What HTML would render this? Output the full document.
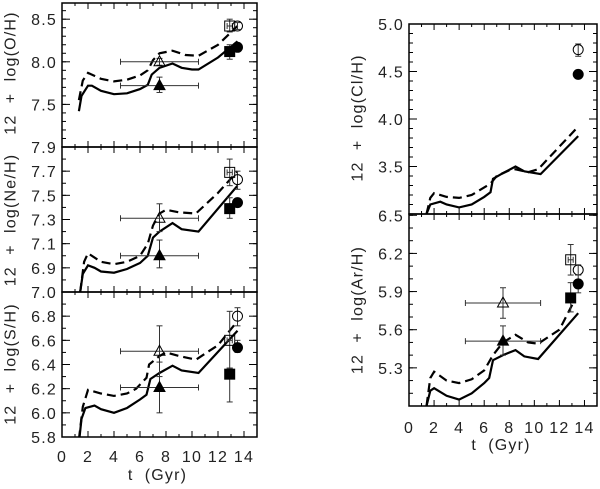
<!DOCTYPE html>
<html><head><meta charset="utf-8"><style>
html,body{margin:0;padding:0;background:#fff;}
svg{display:block;font-family:"Liberation Sans",sans-serif;}
</style></head><body>
<svg id="c" width="600" height="489"></svg>
<script>
// ---- data ----
const oSolidT=[1.3,1.5,2,2.3,3,4,5,6,6.6,6.9,7.5,8.5,9.2,10,10.5,12,13.5];
const oSolidV=[7.42,7.6,7.72,7.72,7.66,7.62,7.63,7.68,7.73,7.85,7.93,7.98,7.93,7.91,7.91,8.05,8.24];
const oDashT=[1.3,1.6,2,3,4,5,6,6.6,7,7.5,8.5,9.5,10.5,12,13.5];
const oDashV=[7.55,7.78,7.87,7.8,7.77,7.79,7.84,7.9,8.02,8.1,8.13,8.08,8.07,8.2,8.42];
const neSolidT=[1.4,1.6,2,2.5,3,4,5,6,6.6,7,7.5,8.5,9.2,10.5,13.5];
const neSolidV=[6.7,6.85,6.92,6.9,6.87,6.86,6.89,6.94,7.0,7.15,7.2,7.27,7.22,7.2,7.58];
const neDashT=[1.4,1.7,2,3,4,5,6,6.6,7,7.5,8,9,10.3,12,13.5];
const neDashV=[6.7,6.95,7.02,6.95,6.93,6.95,7.0,7.1,7.25,7.35,7.38,7.36,7.35,7.52,7.7];
const sSolidT=[1.3,1.5,1.8,2.5,3,4,5,6,6.5,6.8,7.5,8.5,9.2,10.5,13.5];
const sSolidV=[5.75,5.95,6.04,6.06,6.03,6.0,6.04,6.11,6.15,6.28,6.33,6.39,6.35,6.33,6.68];
const sDashT=[1.3,1.6,2,3,4,5,5.7,6.5,6.7,7.5,8,9,10.3,12,13.5];
const sDashV=[5.78,6.05,6.19,6.16,6.14,6.16,6.2,6.29,6.4,6.47,6.5,6.47,6.44,6.56,6.76];
const clSolidT=[1.4,1.7,2.5,3,4,5,6,6.5,6.7,7.5,8.5,9.2,10.5,13.5];
const clSolidV=[3.0,3.1,3.13,3.1,3.07,3.1,3.18,3.23,3.37,3.43,3.5,3.45,3.42,3.82];
const clDashT=[1.4,1.7,2,3,4,5,6,6.5,7,8,8.5,9.5,10.3,13.5];
const clDashV=[3.0,3.17,3.22,3.18,3.17,3.2,3.28,3.32,3.4,3.46,3.47,3.44,3.47,3.92];
const arSolidT=[1.4,1.7,2,3,4,5,6,6.4,6.7,7.5,8.5,9.2,10.3,13.5];
const arSolidV=[5.0,5.12,5.14,5.08,5.05,5.1,5.18,5.22,5.36,5.4,5.44,5.39,5.37,5.73];
const arDashT=[1.4,1.7,2,3,4,5,6,6.7,7.5,8.5,9.5,10.3,12,13.2];
const arDashV=[5.0,5.22,5.27,5.2,5.18,5.21,5.28,5.4,5.5,5.56,5.5,5.49,5.6,5.83];
// points: [t, value, tLo, tHi, vLo, vHi]
const oPts=[[7.5,8.0,4.5,10.5,7.96,8.04],[7.5,7.72,4.5,10.5,7.64,7.82],[12.9,8.42,12.7,13.1,8.35,8.5],[12.9,8.12,12.7,13.1,8.03,8.2],[13.5,8.42,13.5,13.5,8.38,8.46],[13.5,8.17,13.5,13.5,8.14,8.2]];
const nePts=[[7.5,7.31,4.5,10.5,7.2,7.43],[7.5,7.0,4.5,10.5,6.9,7.13],[12.9,7.69,12.7,13.1,7.58,7.8],[12.9,7.39,12.7,13.1,7.31,7.48],[13.5,7.63,13.5,13.5,7.55,7.7],[13.5,7.44,13.5,13.5,7.41,7.47]];
const sPts=[[7.5,6.51,4.5,10.5,6.3,6.72],[7.5,6.21,4.5,10.5,6.0,6.42],[12.9,6.6,12.7,13.1,6.37,6.84],[12.9,6.32,12.7,13.1,6.09,6.37],[13.5,6.8,13.5,13.5,6.72,6.87],[13.5,6.54,13.5,13.5,6.5,6.6]];
const clPts=[null,null,null,null,[13.5,4.73,13.5,13.5,4.66,4.79],[13.5,4.47,13.5,13.5,4.44,4.51]];
const arPts=[[7.5,5.81,4.5,10.5,5.69,5.93],[7.5,5.51,4.5,10.5,5.4,5.63],[12.9,6.15,12.7,13.1,6.03,6.27],[12.9,5.85,12.7,13.1,5.74,5.97],[13.5,6.07,13.5,13.5,6.03,6.11],[13.5,5.96,13.5,13.5,5.89,6.03]];
const xTickLabels=[0,2,4,6,8,10,12,14];
const oTicks=["7.5","8.0","8.5"], neTicks=["6.9","7.1","7.3","7.5","7.7","7.9"], sTicks=["5.8","6.0","6.2","6.4","6.6","6.8","7.0"];
const clTicks=["3.5","4.0","4.5","5.0"], arTicks=["5.3","5.6","5.9","6.2","6.5"];

const svg=document.getElementById('c');
const NS='http://www.w3.org/2000/svg';
function el(tag,attrs,parent){const e=document.createElementNS(NS,tag);for(const k in attrs)e.setAttribute(k,attrs[k]);(parent||svg).appendChild(e);return e;}

const FS=16, LS=1.2;
const panels=[
 {id:'o',x0:62,x1:257,y0:3,y1:147,vmin:7.0,vmax:8.69,ticks:oTicks,label:'12  +  log(O/H)',solid:[oSolidT,oSolidV],dash:[oDashT,oDashV],pts:oPts,xl:false,lx:11,ly:73},
 {id:'ne',x0:62,x1:257,y0:147,y1:292,vmin:6.7,vmax:7.9,ticks:neTicks,label:'12  +  log(Ne/H)',solid:[neSolidT,neSolidV],dash:[neDashT,neDashV],pts:nePts,xl:false,lx:11,ly:220},
 {id:'s',x0:62,x1:257,y0:292,y1:437,vmin:5.8,vmax:7.0,ticks:sTicks,label:'12  +  log(S/H)',solid:[sSolidT,sSolidV],dash:[sDashT,sDashV],pts:sPts,xl:true,lx:11,ly:364,xlY:462,tY:480},
 {id:'cl',x0:409,x1:597,y0:24,y1:214,vmin:3.0,vmax:5.0,ticks:clTicks,label:'12  +  log(Cl/H)',solid:[clSolidT,clSolidV],dash:[clDashT,clDashV],pts:clPts,xl:false,lx:358,ly:118},
 {id:'ar',x0:409,x1:597,y0:214,y1:406,vmin:5.0,vmax:6.51,ticks:arTicks,label:'12  +  log(Ar/H)',solid:[arSolidT,arSolidV],dash:[arDashT,arDashV],pts:arPts,xl:true,lx:358,ly:310,xlY:433,tY:450}
];

panels.forEach(p=>{
 const g=el('g',{});  
 const X=t=>p.x0+(t/15)*(p.x1-p.x0);
 const Y=v=>p.y1-(v-p.vmin)/(p.vmax-p.vmin)*(p.y1-p.y0);
 const cp=el('clipPath',{id:'cp'+p.id},g); el('rect',{x:p.x0,y:p.y0,width:p.x1-p.x0,height:p.y1-p.y0},cp);
 for(let t=0;t<=15;t++){const L=t%2===0?6:3;
  el('line',{x1:X(t),x2:X(t),y1:p.y1,y2:p.y1-L,stroke:'#000','stroke-width':1},g);
  el('line',{x1:X(t),x2:X(t),y1:p.y0,y2:p.y0+L,stroke:'#000','stroke-width':1},g);}
 for(let v=Math.ceil(p.vmin*10)/10;v<=p.vmax+1e-9;v+=0.1){
  const L=4; el('line',{x1:p.x0,x2:p.x0+L,y1:Y(v),y2:Y(v),stroke:'#000'},g);
  el('line',{x1:p.x1,x2:p.x1-L,y1:Y(v),y2:Y(v),stroke:'#000'},g);}
 p.ticks.forEach(s=>{const v=parseFloat(s);
  el('line',{x1:p.x0,x2:p.x0+8,y1:Y(v),y2:Y(v),stroke:'#000'},g);
  el('line',{x1:p.x1,x2:p.x1-8,y1:Y(v),y2:Y(v),stroke:'#000'},g);
  const tx=el('text',{x:p.x0-5,y:Y(v)+6,'text-anchor':'end','font-size':FS,'letter-spacing':LS,fill:'#222'},g);tx.textContent=s;
  
  });
 el('rect',{x:p.x0,y:p.y0,width:p.x1-p.x0,height:p.y1-p.y0,fill:'none',stroke:'#000','stroke-width':1.5},g);
 const yl=el('text',{x:p.lx,y:p.ly,transform:`rotate(-90 ${p.lx} ${p.ly})`,'text-anchor':'middle','dominant-baseline':'central','font-size':FS,'letter-spacing':LS,fill:'#222'},g);
 yl.setAttributeNS('http://www.w3.org/XML/1998/namespace','xml:space','preserve');
 yl.textContent=p.label;
 
 
 if(p.xl){xTickLabels.forEach(t=>{const tx=el('text',{x:X(t),y:p.xlY,'text-anchor':'middle','font-size':FS,'letter-spacing':LS,fill:'#222'},g);tx.textContent=t;
  
  });
  const xt=el('text',{x:(p.x0+p.x1)/2-2,y:p.tY,'text-anchor':'middle','font-size':FS,'letter-spacing':LS,fill:'#222'},g);
  xt.setAttributeNS('http://www.w3.org/XML/1998/namespace','xml:space','preserve');
  xt.textContent='t  (Gyr)';
  
  }
 const mk=(T,V)=>T.map((t,i)=>(i?'L':'M')+X(t).toFixed(1)+' '+Y(V[i]).toFixed(1)).join(' ');
 const s=el('path',{d:mk(p.solid[0],p.solid[1]),fill:'none',stroke:'#000','stroke-width':2.2,'clip-path':`url(#cp${p.id})`},g);
 
 
 const d=el('path',{d:mk(p.dash[0],p.dash[1]),fill:'none',stroke:'#000','stroke-width':2.2,'stroke-dasharray':'9 5','clip-path':`url(#cp${p.id})`},g);
 
 
 p.pts.forEach((q,i)=>{ if(!q)return;
  const [t,v,tl,th,vl,vh]=q; const cx=X(t),cy=Y(v);
  const pg=el('g',{},g);
  
  
  const ec='#333';
  if(th>tl){el('line',{x1:X(tl),x2:X(th),y1:cy,y2:cy,stroke:ec},pg);
   el('line',{x1:X(tl),x2:X(tl),y1:cy-3,y2:cy+3,stroke:ec},pg);el('line',{x1:X(th),x2:X(th),y1:cy-3,y2:cy+3,stroke:ec},pg);}
  el('line',{x1:cx,x2:cx,y1:Y(vl),y2:Y(vh),stroke:ec},pg);
  el('line',{x1:cx-3,x2:cx+3,y1:Y(vl),y2:Y(vl),stroke:ec},pg);el('line',{x1:cx-3,x2:cx+3,y1:Y(vh),y2:Y(vh),stroke:ec},pg);
  const filled=i%2===1; const f=filled?'#000':'none';
  const kind=Math.floor(i/2);
  if(kind===0) el('path',{d:`M${cx} ${cy-6} L${cx+5.5} ${cy+4} L${cx-5.5} ${cy+4} Z`,fill:f,stroke:'#000'},pg);
  else if(kind===1) el('rect',{x:cx-5,y:cy-5,width:10,height:10,fill:f,stroke:'#000'},pg);
  else el('circle',{cx:cx,cy:cy,r:5,fill:f,stroke:'#000'},pg);
 });
});
</script>
</body></html>
